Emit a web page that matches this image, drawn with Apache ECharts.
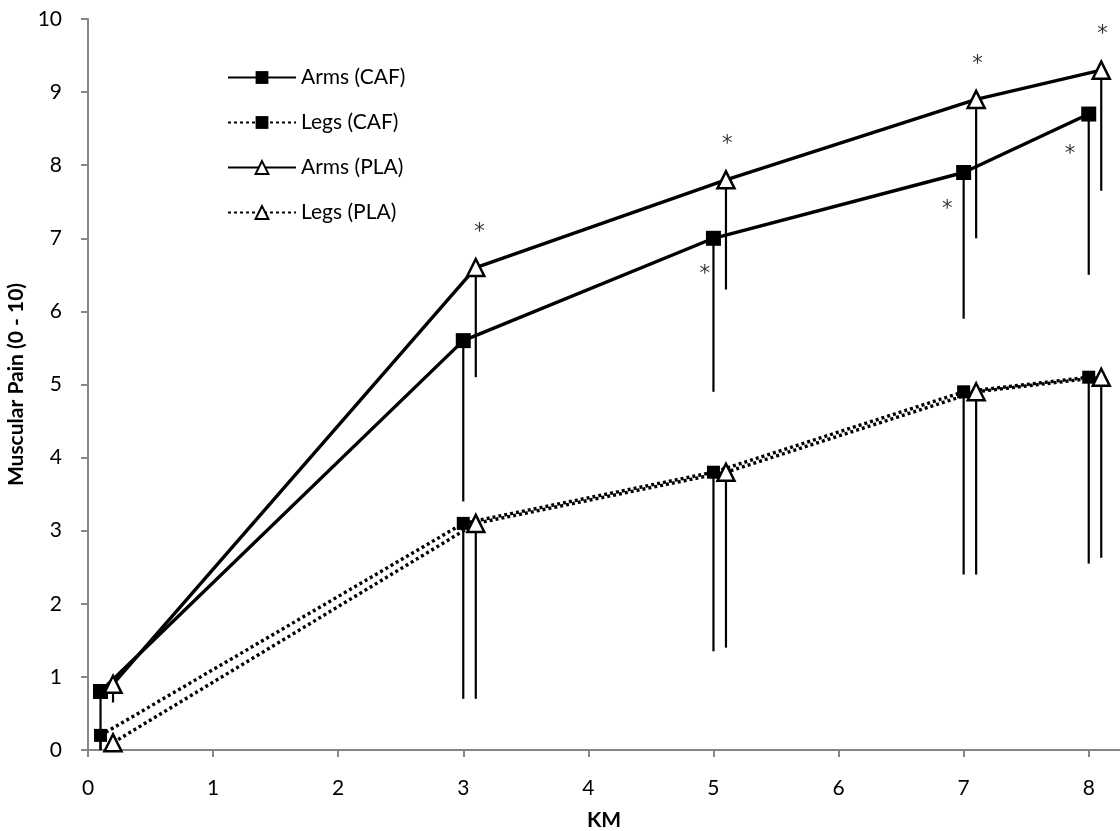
<!DOCTYPE html>
<html><head><meta charset="utf-8">
<script src="https://cdn.jsdelivr.net/npm/echarts@6/dist/echarts.min.js"></script>
<style>html,body{margin:0;padding:0;background:#fff}#c{width:1120px;height:831px}</style>
</head><body><div id="c"></div>
<script>
// ---- data ----
const xCAF = [0.1, 3, 5, 7, 8];
const xPLA = [0.2, 3.1, 5.1, 7.1, 8.1];
const armsCAF = [0.8, 5.6, 7.0, 7.9, 8.7];
const legsCAF = [0.2, 3.1, 3.8, 4.9, 5.1];
const armsPLA = [0.9, 6.6, 7.8, 8.9, 9.3];
const legsPLA = [0.1, 3.1, 3.8, 4.9, 5.1];
// one-sided (downward) error bars
const armsCAFerr = [0.8, 2.2, 2.1, 2.0, 2.2];
const legsCAFerr = [0.2, 2.4, 2.45, 2.5, 2.55];
const armsPLAerr = [0.25, 1.5, 1.5, 1.9, 1.65];
const legsPLAerr = [0.1, 2.4, 2.4, 2.5, 2.47];
// significance markers (*)
const starX = [3.13, 4.93, 5.11, 6.87, 7.11, 7.85, 8.11];
const starY = [7.15, 6.57, 8.35, 7.46, 9.44, 8.21, 9.85];
const xTicks = [0, 1, 2, 3, 4, 5, 6, 7, 8];
const yTicks = [0, 1, 2, 3, 4, 5, 6, 7, 8, 9, 10];

const FONT = 'Lato';
const pts = (xs, ys) => xs.map((x, i) => [x, ys[i]]);
const errs = (xs, ys, es) => xs.map((x, i) => [x, ys[i] - es[i], ys[i]]);

const errData = [].concat(
  errs(xCAF, armsCAF, armsCAFerr), errs(xCAF, legsCAF, legsCAFerr),
  errs(xPLA, armsPLA, armsPLAerr), errs(xPLA, legsPLA, legsPLAerr));

const chart = echarts.init(document.getElementById('c'), null, {renderer: 'canvas'});
const DOT = [3, 3];
const lineBase = (name, data, type, symbol, size, fill) => ({
  name, type: 'line', data, z: 5,
  symbol, symbolSize: size,
  lineStyle: {color: '#000', width: 3.4, type},
  itemStyle: {color: fill, borderColor: '#000', borderWidth: symbol === 'triangle' ? 2.5 : 0},
  emphasis: {disabled: true}, animation: false
});

chart.setOption({
  animation: false,
  grid: {left: 88, right: 0, top: 19, bottom: 81, containLabel: false, outerBoundsMode: 'none'},
  legend: {
    orient: 'vertical', left: 222, top: 62, itemWidth: 68, itemHeight: 16, itemGap: 24,
    textStyle: {fontFamily: FONT, fontSize: 21, color: '#000'},
    data: ['Arms (CAF)', 'Legs (CAF)', 'Arms (PLA)', 'Legs (PLA)']
  },
  xAxis: {
    type: 'value', min: 0, max: 8.25, interval: 1,
    name: 'KM', nameLocation: 'middle', nameGap: 60,
    nameTextStyle: {fontFamily: FONT, fontSize: 21, fontWeight: 'bold', color: '#000'},
    axisLine: {lineStyle: {color: '#868686', width: 2}},
    axisTick: {show: true, length: 7, lineStyle: {color: '#868686', width: 2}, customValues: xTicks},
    axisLabel: {fontFamily: FONT, fontSize: 21, color: '#000', margin: 28, customValues: xTicks},
    splitLine: {show: false}
  },
  yAxis: {
    type: 'value', min: 0, max: 10, interval: 1,
    name: 'Muscular Pain (0 - 10)', nameLocation: 'middle', nameGap: 54, nameRotate: 90,
    nameTextStyle: {fontFamily: FONT, fontSize: 21, fontWeight: 'bold', color: '#000'},
    axisLine: {show: true, lineStyle: {color: '#868686', width: 2}},
    axisTick: {show: true, length: 7, lineStyle: {color: '#868686', width: 2}, customValues: yTicks},
    axisLabel: {fontFamily: FONT, fontSize: 21, color: '#000', margin: 26, customValues: yTicks},
    splitLine: {show: false}
  },
  series: [
    {
      type: 'custom', name: 'err', z: 2, silent: true,
      renderItem: (params, api) => {
        const x = api.value(0);
        const a = api.coord([x, api.value(1)]);
        const b = api.coord([x, api.value(2)]);
        return {type: 'line', shape: {x1: a[0], y1: a[1], x2: b[0], y2: b[1]},
          style: {stroke: '#000', lineWidth: 2.2}};
      },
      encode: {x: 0, y: [1, 2]},
      data: errData
    },
    lineBase('Arms (CAF)', pts(xCAF, armsCAF), 'solid', 'rect', 15, '#000'),
    lineBase('Legs (CAF)', pts(xCAF, legsCAF), DOT, 'rect', 13, '#000'),
    lineBase('Arms (PLA)', pts(xPLA, armsPLA), 'solid', 'triangle', 17, '#fff'),
    lineBase('Legs (PLA)', pts(xPLA, legsPLA), DOT, 'triangle', 17, '#fff'),
    {
      type: 'scatter', name: 'sig', z: 6, silent: true,
      symbol: 'circle', symbolSize: 1, itemStyle: {color: 'rgba(0,0,0,0)'},
      label: {show: true, position: 'inside', formatter: '*', offset: [0, 5],
        fontFamily: 'DejaVu Sans', fontSize: 21, color: '#000'},
      data: pts(starX, starY)
    }
  ]
});
</script></body></html>
